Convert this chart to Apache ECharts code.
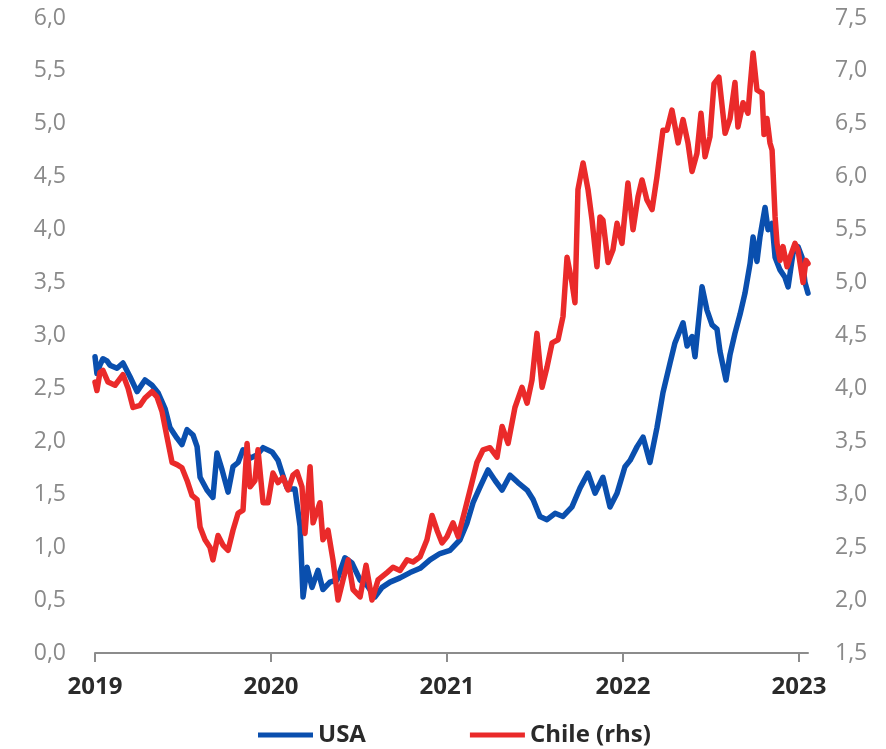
<!DOCTYPE html>
<html>
<head>
<meta charset="utf-8">
<script src="https://cdn.jsdelivr.net/npm/echarts@6/dist/echarts.min.js"></script>
<style>
  html, body { margin: 0; padding: 0; background: #ffffff; }
  #chart { width: 886px; height: 749px; }
</style>
</head>
<body>
<div id="chart"></div>
<script>
// Time is expressed as decimal years (2019.5 = mid-2019)
const yearTicks = [2019, 2020, 2021, 2022, 2023];
const leftTicks = [0, 0.5, 1, 1.5, 2, 2.5, 3, 3.5, 4, 4.5, 5, 5.5, 6];
const rightTicks = [1.5, 2, 2.5, 3, 3.5, 4, 4.5, 5, 5.5, 6, 6.5, 7, 7.5];

// USA (left axis, %)
const usaYears = [
  2019.000, 2019.011, 2019.028, 2019.045, 2019.068, 2019.085, 2019.125, 2019.159, 2019.199, 2019.239,
  2019.284, 2019.324, 2019.358, 2019.398, 2019.426, 2019.466, 2019.494, 2019.523, 2019.557, 2019.580,
  2019.597, 2019.636, 2019.670, 2019.693, 2019.722, 2019.756, 2019.784, 2019.813, 2019.841, 2019.881,
  2019.920, 2019.955, 2020.006, 2020.040, 2020.063, 2020.091, 2020.108, 2020.136, 2020.165, 2020.182,
  2020.205, 2020.233, 2020.267, 2020.295, 2020.335, 2020.375, 2020.420, 2020.460, 2020.506, 2020.545,
  2020.591, 2020.631, 2020.676, 2020.733, 2020.790, 2020.847, 2020.903, 2020.960, 2021.017, 2021.074,
  2021.114, 2021.148, 2021.188, 2021.233, 2021.273, 2021.313, 2021.358, 2021.403, 2021.455, 2021.489,
  2021.528, 2021.568, 2021.614, 2021.659, 2021.710, 2021.756, 2021.801, 2021.841, 2021.886, 2021.926,
  2021.966, 2022.011, 2022.040, 2022.080, 2022.114, 2022.153, 2022.193, 2022.227, 2022.267, 2022.295,
  2022.341, 2022.364, 2022.392, 2022.409, 2022.449, 2022.477, 2022.506, 2022.534, 2022.551, 2022.585,
  2022.608, 2022.636, 2022.665, 2022.693, 2022.722, 2022.739, 2022.761, 2022.778, 2022.807, 2022.824,
  2022.847, 2022.864, 2022.892, 2022.920, 2022.938, 2022.966, 2022.994, 2023.017, 2023.034, 2023.051
];
const usaValues = [
  2.80, 2.64, 2.72, 2.78, 2.76, 2.72, 2.69, 2.74, 2.61, 2.47,
  2.58, 2.53, 2.46, 2.31, 2.13, 2.03, 1.97, 2.11, 2.06, 1.95,
  1.66, 1.54, 1.47, 1.89, 1.73, 1.52, 1.76, 1.80, 1.92, 1.84,
  1.87, 1.94, 1.90, 1.82, 1.70, 1.56, 1.55, 1.55, 1.20, 0.53,
  0.81, 0.62, 0.78, 0.60, 0.67, 0.69, 0.90, 0.85, 0.69, 0.64,
  0.53, 0.62, 0.67, 0.71, 0.76, 0.80, 0.88, 0.94, 0.97, 1.07,
  1.23, 1.42, 1.57, 1.73, 1.63, 1.54, 1.68, 1.61, 1.54, 1.45,
  1.29, 1.26, 1.32, 1.29, 1.38, 1.56, 1.70, 1.51, 1.66, 1.38,
  1.51, 1.76, 1.82, 1.95, 2.04, 1.80, 2.13, 2.46, 2.74, 2.93,
  3.12, 2.90, 2.99, 2.80, 3.46, 3.24, 3.10, 3.06, 2.85, 2.58,
  2.82, 3.02, 3.20, 3.40, 3.68, 3.93, 3.70, 3.93, 4.21, 4.00,
  4.06, 3.74, 3.62, 3.55, 3.46, 3.78, 3.84, 3.74, 3.50, 3.40
];

// Chile (right axis, %)
const chileYears = [
  2019.000, 2019.011, 2019.028, 2019.045, 2019.074, 2019.114, 2019.159, 2019.188, 2019.216, 2019.256,
  2019.284, 2019.324, 2019.352, 2019.381, 2019.409, 2019.438, 2019.466, 2019.494, 2019.523, 2019.551,
  2019.580, 2019.597, 2019.625, 2019.653, 2019.670, 2019.699, 2019.727, 2019.756, 2019.784, 2019.813,
  2019.841, 2019.864, 2019.881, 2019.909, 2019.926, 2019.955, 2019.983, 2020.011, 2020.040, 2020.068,
  2020.097, 2020.125, 2020.148, 2020.176, 2020.193, 2020.222, 2020.239, 2020.278, 2020.295, 2020.324,
  2020.352, 2020.381, 2020.409, 2020.438, 2020.466, 2020.506, 2020.540, 2020.574, 2020.608, 2020.659,
  2020.693, 2020.733, 2020.773, 2020.807, 2020.847, 2020.886, 2020.915, 2020.943, 2020.972, 2021.000,
  2021.034, 2021.063, 2021.102, 2021.131, 2021.170, 2021.205, 2021.244, 2021.284, 2021.313, 2021.347,
  2021.386, 2021.426, 2021.455, 2021.483, 2021.511, 2021.540, 2021.568, 2021.597, 2021.631, 2021.659,
  2021.682, 2021.710, 2021.727, 2021.744, 2021.773, 2021.801, 2021.824, 2021.852, 2021.869, 2021.886,
  2021.915, 2021.943, 2021.966, 2021.994, 2022.028, 2022.057, 2022.085, 2022.108, 2022.136, 2022.165,
  2022.193, 2022.227, 2022.250, 2022.278, 2022.313, 2022.341, 2022.369, 2022.392, 2022.420, 2022.443,
  2022.466, 2022.494, 2022.517, 2022.545, 2022.580, 2022.608, 2022.636, 2022.653, 2022.682, 2022.710,
  2022.722, 2022.739, 2022.761, 2022.790, 2022.801, 2022.818, 2022.835, 2022.847, 2022.864, 2022.875,
  2022.892, 2022.909, 2022.932, 2022.949, 2022.977, 2022.994, 2023.023, 2023.040, 2023.051
];
const chileValues = [
  4.06, 3.98, 4.15, 4.17, 4.06, 4.03, 4.13, 4.00, 3.82, 3.84,
  3.91, 3.97, 3.92, 3.78, 3.54, 3.30, 3.28, 3.25, 3.13, 2.99,
  2.95, 2.69, 2.57, 2.50, 2.38, 2.61, 2.52, 2.47, 2.66, 2.82,
  2.85, 3.48, 3.07, 3.13, 3.42, 2.92, 2.92, 3.20, 3.11, 3.16,
  3.04, 3.18, 3.21, 3.07, 2.63, 3.26, 2.73, 2.92, 2.57, 2.66,
  2.38, 2.00, 2.19, 2.38, 2.10, 2.03, 2.33, 2.00, 2.19, 2.26,
  2.31, 2.28, 2.38, 2.36, 2.41, 2.57, 2.80, 2.66, 2.54, 2.60,
  2.73, 2.60, 2.85, 3.04, 3.30, 3.42, 3.44, 3.35, 3.64, 3.48,
  3.82, 4.01, 3.86, 4.08, 4.52, 4.01, 4.20, 4.43, 4.46, 4.68,
  5.24, 5.00, 4.81, 5.88, 6.13, 5.88, 5.59, 5.15, 5.62, 5.59,
  5.19, 5.31, 5.56, 5.37, 5.94, 5.50, 5.81, 5.97, 5.78, 5.69,
  6.00, 6.44, 6.44, 6.63, 6.32, 6.54, 6.32, 6.05, 6.22, 6.60,
  6.19, 6.38, 6.88, 6.94, 6.41, 6.55, 6.89, 6.47, 6.70, 6.60,
  6.85, 7.17, 6.82, 6.79, 6.40, 6.55, 6.32, 6.25, 5.62, 5.37,
  5.21, 5.34, 5.15, 5.24, 5.37, 5.31, 5.00, 5.21, 5.18
];

const usaColor = '#0a4fae';
const chileColor = '#ea2a2a';
const fontFamily = '"Open Sans", "Noto Sans", sans-serif';

const pairs = (xs, ys) => xs.map((x, i) => [x, ys[i]]);
const commaDecimal = v => v.toFixed(1).replace('.', ',');

const chart = echarts.init(document.getElementById('chart'), null, { renderer: 'canvas' });

chart.setOption({
  animation: false,
  backgroundColor: '#ffffff',
  textStyle: { fontFamily: fontFamily },
  grid: { left: 95, right: 78, top: 18, bottom: 96, containLabel: false },
  legend: {
    left: 258,
    top: 723,
    padding: 0,
    icon: 'rect',
    itemWidth: 55,
    itemHeight: 5,
    itemGap: 104,
    textStyle: { fontFamily: fontFamily, fontSize: 24, fontWeight: 'bold', color: '#2a2a2a' },
    data: ['USA', 'Chile (rhs)']
  },
  xAxis: {
    type: 'value',
    min: 2019,
    max: 2023.051,
    interval: 1,
    axisLine: { show: true, lineStyle: { color: '#8c8c8c', width: 2 } },
    axisTick: { show: true, length: 9, lineStyle: { color: '#8c8c8c', width: 2 }, customValues: yearTicks },
    axisLabel: {
      customValues: yearTicks,
      margin: 22,
      fontFamily: fontFamily,
      fontSize: 24,
      fontWeight: 'bold',
      color: '#2a2a2a',
      formatter: v => String(Math.round(v))
    },
    splitLine: { show: false }
  },
  yAxis: [
    {
      type: 'value',
      min: 0,
      max: 6,
      interval: 0.5,
      position: 'left',
      axisLine: { show: false },
      axisTick: { show: false },
      splitLine: { show: false },
      axisLabel: {
        customValues: leftTicks,
        margin: 29,
        fontFamily: fontFamily,
        fontSize: 23,
        color: '#8a8a8a',
        formatter: commaDecimal
      }
    },
    {
      type: 'value',
      min: 1.5,
      max: 7.5,
      interval: 0.5,
      position: 'right',
      axisLine: { show: false },
      axisTick: { show: false },
      splitLine: { show: false },
      axisLabel: {
        customValues: rightTicks,
        margin: 27,
        fontFamily: fontFamily,
        fontSize: 23,
        color: '#8a8a8a',
        formatter: commaDecimal
      }
    }
  ],
  series: [
    {
      name: 'USA',
      type: 'line',
      yAxisIndex: 0,
      data: pairs(usaYears, usaValues),
      showSymbol: false,
      symbol: 'none',
      lineStyle: { color: usaColor, width: 5.5, join: 'round', cap: 'round' },
      itemStyle: { color: usaColor },
      z: 2
    },
    {
      name: 'Chile (rhs)',
      type: 'line',
      yAxisIndex: 1,
      data: pairs(chileYears, chileValues),
      showSymbol: false,
      symbol: 'none',
      lineStyle: { color: chileColor, width: 5.5, join: 'round', cap: 'round' },
      itemStyle: { color: chileColor },
      z: 3
    }
  ]
});
</script>
</body>
</html>
